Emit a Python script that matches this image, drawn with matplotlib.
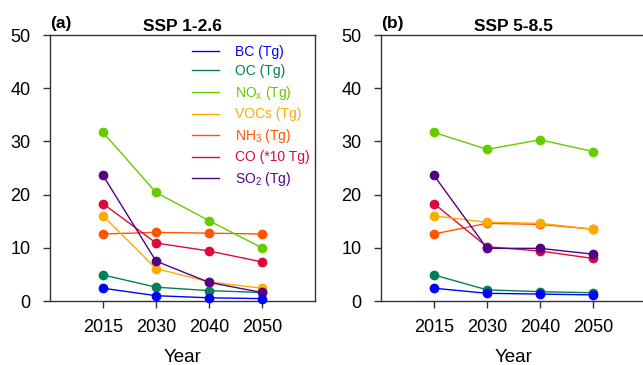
# emission time series, SSP 1-2.6 vs SSP 5-8.5
import matplotlib
matplotlib.use('Agg')
import matplotlib.pyplot as plt
import numpy as np

plt.rcParams['font.family'] = ['Liberation Sans', 'DejaVu Sans']
plt.rcParams['mathtext.default'] = 'regular'

years = ['2015', '2030', '2040', '2050']
species = ['BC (Tg)', 'OC (Tg)', 'NO$_x$ (Tg)', 'VOCs (Tg)',
           'NH$_3$ (Tg)', 'CO (*10 Tg)', 'SO$_2$ (Tg)']
colors = ['#0000ff', '#00805a', '#66cc00', '#ffaa00',
          '#ff5500', '#dc0a3c', '#550088']

# SSP 1-2.6
bc_126 = [2.4, 1.0, 0.6, 0.45]
oc_126 = [4.9, 2.6, 1.95, 1.6]
nox_126 = [31.7, 20.4, 15.1, 10.0]
voc_126 = [16.0, 6.1, 3.6, 2.4]
nh3_126 = [12.6, 12.9, 12.75, 12.6]
co_126 = [18.3, 10.9, 9.4, 7.35]
so2_126 = [23.6, 7.5, 3.5, 1.6]

# SSP 5-8.5
bc_585 = [2.4, 1.45, 1.3, 1.15]
oc_585 = [4.9, 2.1, 1.75, 1.55]
nox_585 = [31.7, 28.5, 30.3, 28.1]
voc_585 = [16.0, 14.8, 14.6, 13.5]
nh3_585 = [12.6, 14.6, 14.4, 13.5]
co_585 = [18.3, 10.2, 9.4, 8.0]
so2_585 = [23.6, 9.9, 9.9, 8.8]

ssp126 = [bc_126, oc_126, nox_126, voc_126, nh3_126, co_126, so2_126]
ssp585 = [bc_585, oc_585, nox_585, voc_585, nh3_585, co_585, so2_585]
zorders = [9, 5, 4, 6, 3, 4, 8]

fig = plt.figure(figsize=(6.43, 3.65), dpi=100)
w = 265 / 643
h = 266 / 365
b = 1 - 301 / 365
ax1 = fig.add_axes([50 / 643, b, w, h])
ax2 = fig.add_axes([381 / 643, b, w, h])

x = np.arange(1, len(years) + 1)
for ax, data, title, tag in [(ax1, ssp126, 'SSP 1-2.6', '(a)'),
                             (ax2, ssp585, 'SSP 5-8.5', '(b)')]:
    for vals, c, lab, z in zip(data, colors, species, zorders):
        ax.plot(x, vals, '-', color=c, lw=1.0, zorder=z, label=lab)
        ax.plot(x, vals, 'o', color=c, ms=6, zorder=z + 0.5, clip_on=False)
    ax.set_xlim(0, 5)
    ax.set_ylim(0, 50)
    ax.set_xticks(x)
    ax.set_xticklabels(years)
    ax.set_yticks(range(0, 51, 10))
    ax.tick_params(axis='both', direction='out', length=5, width=1,
                   labelsize=13, color='#333333')
    ax.tick_params(axis='x', pad=8)
    ax.tick_params(axis='y', pad=9)
    for s in ax.spines.values():
        s.set_linewidth(1.0)
        s.set_color('#333333')
    ax.set_xlabel('Year', fontsize=13.5, labelpad=9)
    ax.set_title(title, fontsize=12.5, fontweight='bold', pad=3)
    ax.text(0.0, 1.015, tag, transform=ax.transAxes, fontsize=12.5,
            fontweight='bold', ha='left', va='bottom')

leg = ax1.legend(loc='upper left', bbox_to_anchor=(0.50, 1.0), frameon=False,
                 fontsize=10, labelcolor='linecolor', handlelength=1.95,
                 handletextpad=1.1, labelspacing=0.4, borderaxespad=0.3)

plt.savefig('out.png', dpi=100)
